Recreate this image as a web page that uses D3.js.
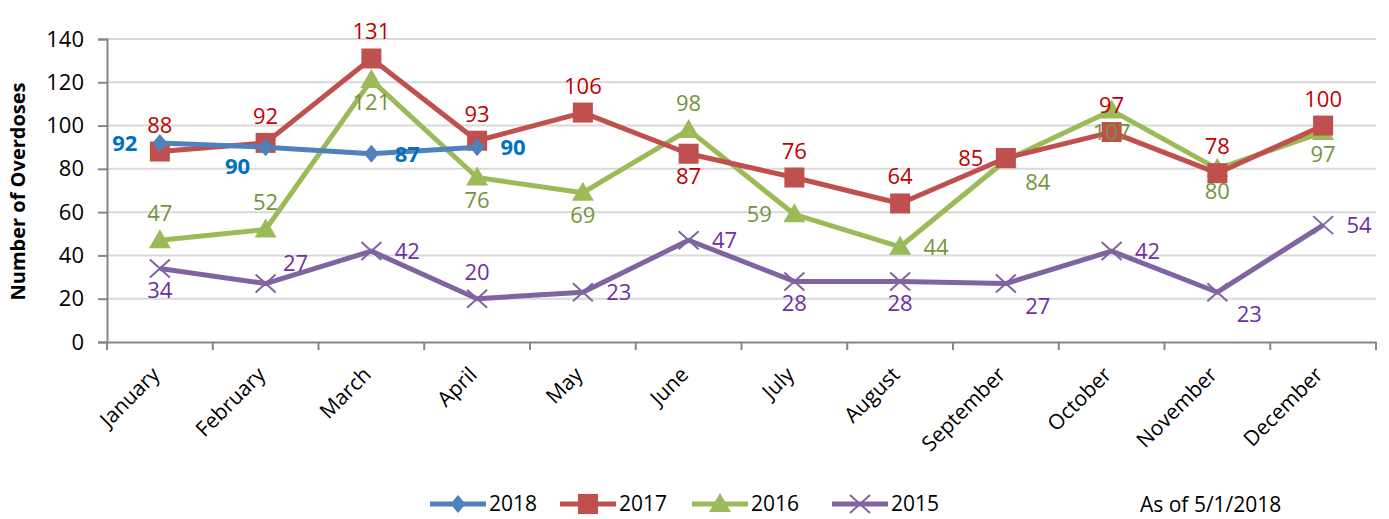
<!DOCTYPE html>
<html>
<head>
<meta charset="utf-8">
<script src="https://cdn.jsdelivr.net/npm/d3@7"></script>
<style>
  body { margin: 0; background: #fff; }
  text { font-family: "Open Sans", sans-serif; }
</style>
</head>
<body>
<div id="chart"></div>
<script>
// data
var months = ["January", "February", "March", "April", "May", "June", "July",
              "August", "September", "October", "November", "December"];
var yTicks = [0, 20, 40, 60, 80, 100, 120, 140];

var v2018 = [92, 90, 87, 90];
var v2017 = [88, 92, 131, 93, 106, 87, 76, 64, 85, 97, 78, 100];
var v2016 = [47, 52, 121, 76, 69, 98, 59, 44, 84, 107, 80, 97];
var v2015 = [34, 27, 42, 20, 23, 47, 28, 28, 27, 42, 23, 54];

// where Excel put each data label relative to its point
var lab2018 = ["w", "sw", "e", "e"];
var lab2017 = ["n", "n", "n", "n", "n", "s", "n", "n", "w", "n", "n", "n"];
var lab2016 = ["n", "n", "s", "s", "s", "n", "w", "e", "se", "s", "s", "s"];
var lab2015 = ["s", "ne", "e", "n", "e", "e", "s", "s", "se", "e", "se", "e"];

var series = [
  {name: "2018", values: v2018, labels: lab2018, color: "#4F81BD", text: "#0070C0", bold: true, marker: "diamond"},
  {name: "2017", values: v2017, labels: lab2017, color: "#C0504D", text: "#C00000", bold: false, marker: "square"},
  {name: "2016", values: v2016, labels: lab2016, color: "#9BBB59", text: "#77933C", bold: false, marker: "triangle"},
  {name: "2015", values: v2015, labels: lab2015, color: "#8064A2", text: "#7030A0", bold: false, marker: "cross"}
];

var W = 1389, H = 519;
var plot = {left: 107, right: 1376, top: 39, bottom: 342};

var svg = d3.select("#chart").append("svg")
    .attr("width", W)
    .attr("height", H);

var x = d3.scaleBand()
    .domain(months)
    .range([plot.left, plot.right]);

var y = d3.scaleLinear()
    .domain([0, 140])
    .range([plot.bottom, plot.top]);

// gridlines
svg.append("g")
    .selectAll("line")
    .data(yTicks.slice(1))
    .enter().append("line")
    .attr("x1", plot.left)
    .attr("x2", plot.right)
    .attr("y1", function(d) { return y(d); })
    .attr("y2", function(d) { return y(d); })
    .attr("stroke", "#D9D9D9")
    .attr("stroke-width", 2);

// y axis
var yAxis = svg.append("g")
    .attr("transform", "translate(" + plot.left + ",0)")
    .call(d3.axisLeft(y).tickValues(yTicks).tickSize(9).tickPadding(14));
yAxis.selectAll("text")
    .attr("font-size", 22)
    .attr("fill", "#000");

// x axis, ticks on band boundaries
var xAxis = svg.append("g")
    .attr("transform", "translate(0," + plot.bottom + ")")
    .call(d3.axisBottom(x).tickSize(0).tickFormat(""));
xAxis.selectAll("text").remove();
svg.append("g")
    .selectAll("line")
    .data(months.concat(["end"]))
    .enter().append("line")
    .attr("x1", function(d, i) { return plot.left + i * x.step(); })
    .attr("x2", function(d, i) { return plot.left + i * x.step(); })
    .attr("y1", plot.bottom)
    .attr("y2", plot.bottom + 8)
    .attr("stroke", "#868686")
    .attr("stroke-width", 2);

[yAxis, xAxis].forEach(function(g) {
    g.select(".domain").attr("stroke", "#868686").attr("stroke-width", 2);
    g.selectAll(".tick line").attr("stroke", "#868686").attr("stroke-width", 2);
});

// rotated month labels
svg.append("g")
    .selectAll("text")
    .data(months)
    .enter().append("text")
    .attr("transform", function(d) {
        return "translate(" + (x(d) + x.bandwidth() / 2 + 1) + "," + (plot.bottom + 34) + ") rotate(-45)";
    })
    .attr("text-anchor", "end")
    .attr("font-size", 21)
    .attr("fill", "#000")
    .text(function(d) { return d; });

// y axis title
svg.append("text")
    .attr("transform", "translate(25," + ((plot.top + plot.bottom) / 2 + 1) + ") rotate(-90)")
    .attr("text-anchor", "middle")
    .attr("font-size", 20)
    .attr("font-weight", "bold")
    .attr("fill", "#000")
    .text("Number of Overdoses");

function cx(i) { return x(months[i]) + x.bandwidth() / 2; }

function drawMarker(g, type, color, px, py) {
    if (type === "diamond") {
        g.append("path")
            .attr("d", "M" + px + "," + (py - 9) + "L" + (px + 7.5) + "," + py + "L" + px + "," + (py + 9) + "L" + (px - 7.5) + "," + py + "Z")
            .attr("fill", color);
    } else if (type === "square") {
        g.append("rect")
            .attr("x", px - 10).attr("y", py - 10)
            .attr("width", 20).attr("height", 20)
            .attr("fill", color);
    } else if (type === "triangle") {
        g.append("path")
            .attr("d", "M" + px + "," + (py - 11) + "L" + (px + 11) + "," + (py + 8) + "L" + (px - 11) + "," + (py + 8) + "Z")
            .attr("fill", color);
    } else {
        g.append("path")
            .attr("d", "M" + (px - 10) + "," + (py - 9) + "L" + (px + 10) + "," + (py + 9) +
                       "M" + (px + 10) + "," + (py - 9) + "L" + (px - 10) + "," + (py + 9))
            .attr("stroke", color)
            .attr("stroke-width", 2);
    }
}

var line = d3.line()
    .x(function(d, i) { return cx(i); })
    .y(function(d) { return y(d); });

// draw oldest first so 2018 sits on top
series.slice().reverse().forEach(function(s) {
    var g = svg.append("g");
    g.append("path")
        .datum(s.values)
        .attr("d", line)
        .attr("fill", "none")
        .attr("stroke", s.color)
        .attr("stroke-width", 5)
        .attr("stroke-linejoin", "round");
    s.values.forEach(function(v, i) {
        drawMarker(g, s.marker, s.color, cx(i), y(v));
    });
});

// data labels
var off = {
    n: [0, -19], s: [0, 30], e: [36, 8], w: [-35, 8],
    ne: [30, -13], se: [32, 30], sw: [-28, 27]
};
series.forEach(function(s) {
    svg.append("g")
        .selectAll("text")
        .data(s.values)
        .enter().append("text")
        .attr("x", function(d, i) { return cx(i) + off[s.labels[i]][0]; })
        .attr("y", function(d, i) { return y(d) + off[s.labels[i]][1]; })
        .attr("text-anchor", "middle")
        .attr("font-size", 22)
        .attr("font-weight", s.bold ? "bold" : "normal")
        .attr("fill", s.text)
        .text(function(d) { return d; });
});

// legend
var legend = svg.append("g")
    .attr("transform", "translate(430,504)");
var legX = [0, 130, 262, 402];
series.forEach(function(s, i) {
    var g = legend.append("g").attr("transform", "translate(" + legX[i] + ",0)");
    g.append("line")
        .attr("x1", 0).attr("x2", 56)
        .attr("y1", 0).attr("y2", 0)
        .attr("stroke", s.color)
        .attr("stroke-width", 5);
    drawMarker(g, s.marker, s.color, 28, 0);
    g.append("text")
        .attr("x", 59)
        .attr("y", 7)
        .attr("font-size", 21)
        .attr("fill", "#000")
        .text(s.name);
});

svg.append("text")
    .attr("x", 1140)
    .attr("y", 512)
    .attr("font-size", 21)
    .attr("fill", "#000")
    .text("As of 5/1/2018");
</script>
</body>
</html>
